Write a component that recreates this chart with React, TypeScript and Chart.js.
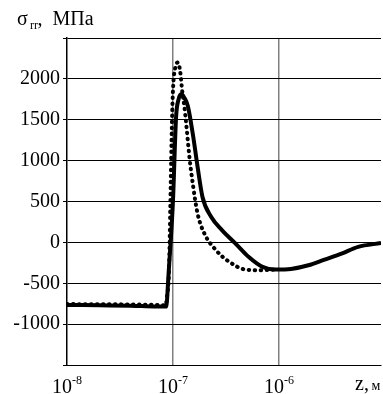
import React, { useEffect, useRef } from "react";
import { Chart, registerables } from "chart.js";

Chart.register(...registerables);

const xTickValues = [1e-8, 1e-7, 1e-6];
const xTickExponents = ["-8", "-7", "-6"];
const yTickLabels = [-1000, -500, 0, 500, 1000, 1500, 2000];

const zSolid = [1e-8, 2e-8, 4e-8, 7e-8, 8.6e-8, 8.8e-8, 9.0e-8, 1.0e-7, 1.07e-7, 1.13e-7, 1.2e-7, 1.28e-7, 1.38e-7, 1.54e-7, 1.71e-7, 1.9e-7, 2.3e-7, 2.9e-7, 3.9e-7, 5.2e-7, 7.0e-7, 9.3e-7, 1.3e-6, 1.9e-6, 2.7e-6, 3.9e-6, 5.6e-6, 9.2e-6];
const sigmaSolid = [-765, -770, -775, -785, -785, -700, -480, 500, 1530, 1750, 1815, 1770, 1670, 1325, 920, 555, 310, 150, -15, -180, -300, -333, -325, -280, -210, -137, -55, -8];

const zDotted = [1e-8, 3e-8, 7e-8, 8.53e-8, 8.81e-8, 9.16e-8, 9.44e-8, 9.7e-8, 1.0e-7, 1.052e-7, 1.112e-7, 1.169e-7, 1.222e-7, 1.285e-7, 1.334e-7, 1.432e-7, 1.538e-7, 1.71e-7, 1.977e-7, 2.547e-7, 3.388e-7, 4.864e-7, 6.486e-7, 8.95e-7];
const sigmaDotted = [-755, -758, -765, -770, -650, -380, 430, 1245, 1855, 2140, 2200, 2095, 1855, 1650, 1450, 1040, 720, 350, 110, -95, -237, -333, -340, -335];

const FONT = "'Liberation Serif', 'Times New Roman', serif";

const textPlugin = {
  id: "customText",
  afterDraw(chart: any) {
    const ctx = chart.ctx;
    const xs = chart.scales.x;
    ctx.save();
    ctx.fillStyle = "#000";
    ctx.textBaseline = "alphabetic";
    ctx.textAlign = "left";
    ctx.font = `20px ${FONT}`;
    ctx.fillText("σ", 17, 25);
    ctx.font = `12px ${FONT}`;
    ctx.fillText("rr", 30, 29);
    ctx.font = `20px ${FONT}`;
    ctx.fillText(",", 37.5, 25);
    ctx.fillText("МПа", 52.5, 25);
    xTickValues.forEach((v, i) => {
      const px = xs.getPixelForValue(v);
      ctx.font = `20px ${FONT}`;
      const w1 = ctx.measureText("10").width;
      ctx.font = `12px ${FONT}`;
      const w2 = ctx.measureText(xTickExponents[i]).width;
      const start = px - (w1 + w2) / 2;
      ctx.font = `20px ${FONT}`;
      ctx.fillText("10", start, 393);
      ctx.font = `12px ${FONT}`;
      ctx.fillText(xTickExponents[i], start + w1, 384);
    });
    ctx.font = `20px ${FONT}`;
    ctx.fillText("z", 355, 390);
    ctx.fillText(",", 364, 390);
    ctx.font = `14px ${FONT}`;
    ctx.fillText("м", 371.5, 390);
    ctx.restore();
  },
};

export default function App() {
  const ref = useRef<HTMLCanvasElement | null>(null);
  useEffect(() => {
    document.body.style.margin = "0";
    const canvas = ref.current;
    if (!canvas) return;
    const chart = new Chart(canvas, {
      type: "line",
      data: {
        datasets: [
          {
            label: "solid",
            data: zSolid.map((z, i) => ({ x: z, y: sigmaSolid[i] })),
            borderColor: "#000",
            borderWidth: 4,
            pointRadius: 0,
            cubicInterpolationMode: "monotone",
            fill: false,
          },
          {
            label: "dotted",
            data: zDotted.map((z, i) => ({ x: z, y: sigmaDotted[i] })),
            borderColor: "#000",
            borderWidth: 4,
            borderDash: [0.5, 5.5],
            borderCapStyle: "round",
            pointRadius: 0,
            cubicInterpolationMode: "monotone",
            fill: false,
          },
        ],
      },
      options: {
        animation: false,
        responsive: false,
        maintainAspectRatio: false,
        layout: { padding: { top: 38, left: 0, right: 0, bottom: 0 } },
        plugins: { legend: { display: false }, tooltip: { enabled: false }, title: { display: false } },
        scales: {
          x: {
            type: "logarithmic",
            min: 1e-8,
            max: 9.2e-6,
            afterBuildTicks: (scale: any) => {
              scale.ticks = xTickValues.map((v) => ({ value: v }));
            },
            afterFit: (scale: any) => {
              scale.height = 29;
            },
            ticks: { display: false },
            grid: {
              color: (c: any) => (c.tick && c.tick.value === 1e-8 ? "rgba(0,0,0,0)" : "#808080"),
              lineWidth: 1.5,
              drawTicks: false,
            },
            border: { display: true, color: "#000", width: 1 },
          },
          y: {
            min: -1500,
            max: 2500,
            afterBuildTicks: (scale: any) => {
              const vals = [-1500, ...yTickLabels, 2500];
              scale.ticks = vals.map((v) => ({ value: v }));
            },
            afterFit: (scale: any) => {
              scale.width = 67;
            },
            ticks: {
              color: "#000",
              font: { family: FONT, size: 20 },
              padding: 3,
              callback: (v: any) => (yTickLabels.includes(Number(v)) ? String(v) : ""),
            },
            grid: { color: "#000", lineWidth: 1, tickLength: 4 },
            border: { display: true, color: "#000", width: 1.5 },
          },
        },
      },
      plugins: [textPlugin],
    } as any);
    let alive = true;
    const fonts: any = (document as any).fonts;
    if (fonts && fonts.load) {
      Promise.all([
        fonts.load(`20px 'Liberation Serif'`, "0123456789МПаσ"),
        fonts.load(`12px 'Liberation Serif'`, "rr-8"),
      ]).then(() => {
        if (alive) chart.update();
      }).catch(() => {});
    }
    return () => {
      alive = false;
      chart.destroy();
    };
  }, []);
  return (
    <div style={{ width: 383, height: 394, background: "#fff" }}>
      <canvas ref={ref} width={383} height={394} style={{ display: "block", width: 383, height: 394 }} />
    </div>
  );
}
